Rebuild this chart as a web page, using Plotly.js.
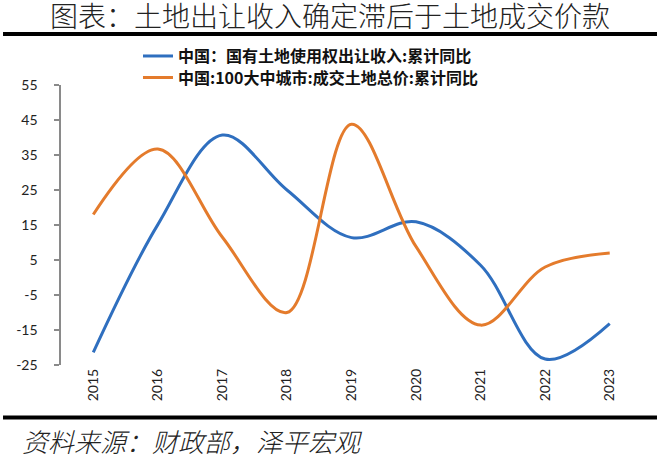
<!DOCTYPE html>
<html>
<head>
<meta charset="utf-8">
<script src="https://cdn.plot.ly/plotly-3.0.1.min.js"></script>
<style>
  html, body { margin: 0; padding: 0; background: #ffffff; }
  #chart { width: 660px; height: 459px; }
</style>
</head>
<body>
<div id="chart"></div>
<script>
const years = ["2015", "2016", "2017", "2018", "2019", "2020", "2021", "2022", "2023"];
const landRevenueYoY = [-21.4, 15.1, 40.7, 25.0, 11.4, 15.9, 3.5, -23.3, -13.2];
const cityLandPriceYoY = [18.0, 36.7, 11.5, -10.0, 43.8, 8.8, -13.6, 3.0, 7.0];
const yTickValues = [-25, -15, -5, 5, 15, 25, 35, 45, 55];
const yTickLabels = ["-25", "-15", "-5", "5", "15", "25", "35", "45", "55"];
const seriesNames = [
  "中国：国有土地使用权出让收入:累计同比",
  "中国:100大中城市:成交土地总价:累计同比",
];

const CJK = "Noto Sans CJK SC, sans-serif";
const TICK_FONT = "Lato, Noto Sans, sans-serif";
const AXIS_GREY = "#8a8a8a";

const traces = [
  {
    x: years,
    y: landRevenueYoY,
    type: "scatter",
    mode: "lines",
    name: seriesNames[0],
    line: { color: "#2f6fbf", width: 3, shape: "spline", smoothing: 1 },
    legend: "legend",
  },
  {
    x: years,
    y: cityLandPriceYoY,
    type: "scatter",
    mode: "lines",
    name: seriesNames[1],
    line: { color: "#e47b2c", width: 3, shape: "spline", smoothing: 1 },
    legend: "legend2",
  },
];

const legendFont = { family: CJK, size: 16, color: "#111111", weight: "bold" };

const layout = {
  width: 660,
  height: 459,
  margin: { l: 61, r: 18, t: 85, b: 94 },
  paper_bgcolor: "#ffffff",
  plot_bgcolor: "#ffffff",
  font: { family: TICK_FONT, color: "#222222", size: 14 },
  title: {
    text: "图表：土地出让收入确定滞后于土地成交价款",
    font: { family: CJK, size: 28, color: "#222222", weight: 300 },
    x: 0.5,
    xref: "container",
    xanchor: "center",
    y: 0.962,
    yref: "container",
    yanchor: "middle",
  },
  showlegend: true,
  legend: {
    x: 0.1325,
    y: 1.164,
    xanchor: "left",
    yanchor: "top",
    bgcolor: "rgba(0,0,0,0)",
    font: legendFont,
  },
  legend2: {
    x: 0.1325,
    y: 1.087,
    xanchor: "left",
    yanchor: "top",
    bgcolor: "rgba(0,0,0,0)",
    font: legendFont,
  },
  xaxis: {
    type: "category",
    categoryarray: years,
    range: [-0.5, years.length - 0.5],
    showline: false,
    showgrid: false,
    zeroline: false,
    ticks: "",
    tickangle: -90,
    tickfont: { family: TICK_FONT, size: 14, color: "#222222" },
    fixedrange: true,
  },
  xaxis2: {
    overlaying: "x",
    anchor: "free",
    position: 25 / 80,
    type: "linear",
    range: [-0.5, years.length - 0.5],
    tick0: -0.5,
    dtick: 1,
    ticks: "outside",
    ticklen: 5,
    tickwidth: 1.3,
    tickcolor: AXIS_GREY,
    showline: true,
    linecolor: AXIS_GREY,
    linewidth: 1.6,
    showticklabels: false,
    showgrid: false,
    zeroline: false,
    fixedrange: true,
  },
  yaxis: {
    range: [-25, 55],
    tickmode: "array",
    tickvals: yTickValues,
    ticktext: yTickLabels,
    ticklabelstandoff: 14,
    showline: true,
    linecolor: AXIS_GREY,
    linewidth: 1.6,
    ticks: "outside",
    ticklen: 5,
    tickwidth: 1.3,
    tickcolor: AXIS_GREY,
    showgrid: false,
    zeroline: false,
    tickfont: { family: TICK_FONT, size: 14, color: "#222222" },
    fixedrange: true,
  },
  shapes: [
    {
      type: "line", xref: "paper", yref: "paper",
      x0: -0.0998, x1: 1.0258, y0: 1.182, y1: 1.182,
      line: { color: "#000000", width: 4 },
    },
    {
      type: "line", xref: "paper", yref: "paper",
      x0: -0.0998, x1: 1.0258, y0: -0.1875, y1: -0.1875,
      line: { color: "#000000", width: 4 },
    },
  ],
  annotations: [
    {
      text: "资料来源：财政部，泽平宏观",
      xref: "paper", yref: "paper",
      x: -0.0706, y: -0.2714,
      xanchor: "left", yanchor: "middle",
      showarrow: false,
      font: { family: CJK, size: 26, color: "#222222", style: "italic", weight: 300 },
    },
  ],
};

Plotly.newPlot("chart", traces, layout, { displayModeBar: false, staticPlot: true });
</script>
</body>
</html>
